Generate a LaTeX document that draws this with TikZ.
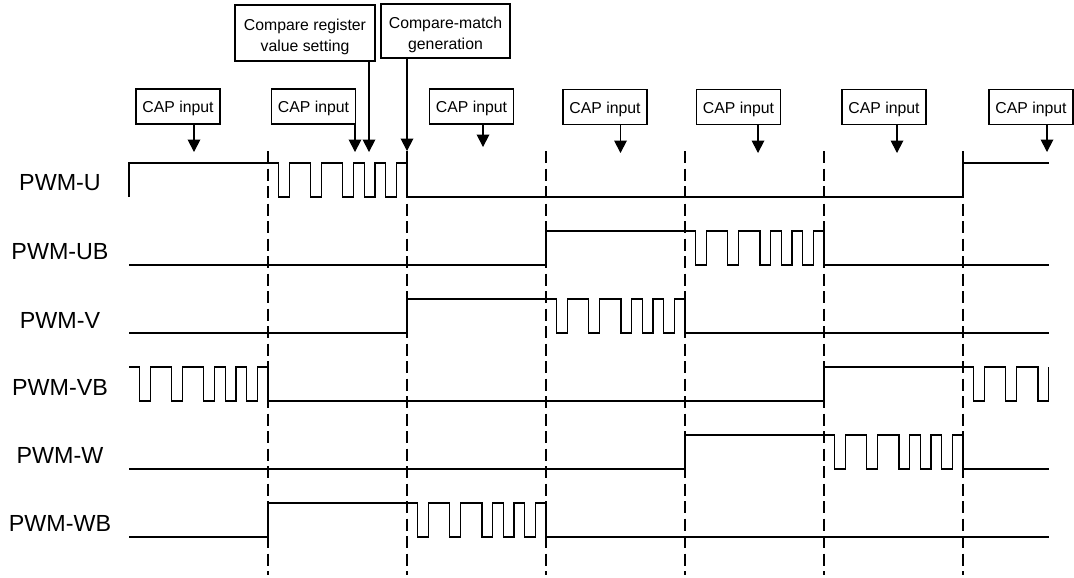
\documentclass[tikz,border=0pt]{standalone}
\usepackage{fontspec}
\setmainfont{Liberation Sans}
\usetikzlibrary{arrows.meta}

\def\pwmu{10.6923}
\def\bursta{-- ++(\pwmu,0) -- ++(0,34) -- ++(\pwmu,0) -- ++(0,-34) -- ++(2*\pwmu,0) -- ++(0,34) -- ++(\pwmu,0) -- ++(0,-34) -- ++(2*\pwmu,0) -- ++(0,34) -- ++(\pwmu,0) -- ++(0,-34)}
\def\burstb{-- ++(\pwmu,0) -- ++(0,34) -- ++(\pwmu,0) -- ++(0,-34) -- ++(\pwmu,0) -- ++(0,34) -- ++(\pwmu,0) -- ++(0,-34) -- ++(\pwmu,0)}
\def\burst{\bursta \burstb}

\begin{document}
\begin{tikzpicture}[x=1pt,y=-1pt]
  \tikzstyle{capbox}=[draw, line width=1.1pt, minimum width=84pt, minimum height=35pt, inner sep=0pt, text height=12.3pt, text depth=0pt, font=\fontsize{15.8}{21.5}\selectfont]
  \tikzstyle{notebox}=[capbox, align=center, text height=37.4pt]
  \tikzstyle{pwmlabel}=[font=\fontsize{23.3}{28}\selectfont]
  \tikzstyle{capar}=[line width=1.2pt, -{Triangle[length=12.5pt,width=12.7pt]}]
  \tikzstyle{sig}=[line width=1.3pt]
  \tikzstyle{tick}=[line width=1.7pt, dash pattern=on 12pt off 5.5pt]

  \useasboundingbox (0,0) rectangle (1074,578);

  \node[pwmlabel] (lu) at (60,182.5) {PWM-U};
  \node[pwmlabel] (lub) at (60,251.5) {PWM-UB};
  \node[pwmlabel] (lv) at (60,320) {PWM-V};
  \node[pwmlabel] (lvb) at (60,387) {PWM-VB};
  \node[pwmlabel] (lw) at (60,455) {PWM-W};
  \node[pwmlabel] (lwb) at (60,523) {PWM-WB};

  \foreach \x in {268,407,546,685,824,963}
    \draw[tick] (\x,151) -- (\x,575);

  \draw[sig] (129,197) -- (129,163) -- (268,163) \burst -- ++(0,34) -- (963,197) -- ++(0,-34) -- (1048.5,163);
  \draw[sig] (129,265) -- (546,265) -- ++(0,-34) -- (685,231) \burst -- ++(0,34) -- (1048.5,265);
  \draw[sig] (129,333) -- (407,333) -- ++(0,-34) -- (546,299) \burst -- ++(0,34) -- (1048.5,333);
  \draw[sig] (129,367) \burst -- ++(0,34) -- (824,401) -- ++(0,-34) -- (963,367) \bursta;
  \draw[sig] (129,469) -- (685,469) -- ++(0,-34) -- (824,435) \burst -- ++(0,34) -- (1048.5,469);
  \draw[sig] (129,537) -- (268,537) -- ++(0,-34) -- (407,503) \burst -- ++(0,34) -- (1048.5,537);

  \node[capbox] (cap1) at (178,106.5) {CAP input};
  \node[capbox] (cap2) at (313.5,106.5) {CAP input};
  \node[notebox, minimum width=140pt, minimum height=56pt] (creg) at (305,33) {Compare register\\value setting};
  \node[notebox, minimum width=129pt, minimum height=54pt] (cmatch) at (445.5,31) {Compare-match\\generation};
  \node[capbox] (cap3) at (471.5,106.5) {CAP input};
  \node[capbox] (cap4) at (605,107) {CAP input};
  \node[capbox] (cap5) at (738.5,107) {CAP input};
  \node[capbox] (cap6) at (884,107) {CAP input};
  \node[capbox] (cap7) at (1031,107) {CAP input};

  \coordinate (a1) at (194,152);
  \coordinate (a2) at (355,152);
  \coordinate (areg) at (369,152);
  \coordinate (amatch) at (407,151);
  \coordinate (a3) at (483,147);
  \coordinate (a4) at (620.5,153);
  \coordinate (a5) at (758,153);
  \coordinate (a6) at (897,153);
  \coordinate (a7) at (1047,152);

  \draw[capar] (cap1.south -| a1) -- (a1);
  \draw[capar] (cap2.south -| a2) -- (a2);
  \draw[capar] (creg.south -| areg) -- (areg);
  \draw[capar] (cmatch.south -| amatch) -- (amatch);
  \draw[capar] (cap3.south -| a3) -- (a3);
  \draw[capar] (cap4.south -| a4) -- (a4);
  \draw[capar] (cap5.south -| a5) -- (a5);
  \draw[capar] (cap6.south -| a6) -- (a6);
  \draw[capar] (cap7.south -| a7) -- (a7);
\end{tikzpicture}
\end{document}
